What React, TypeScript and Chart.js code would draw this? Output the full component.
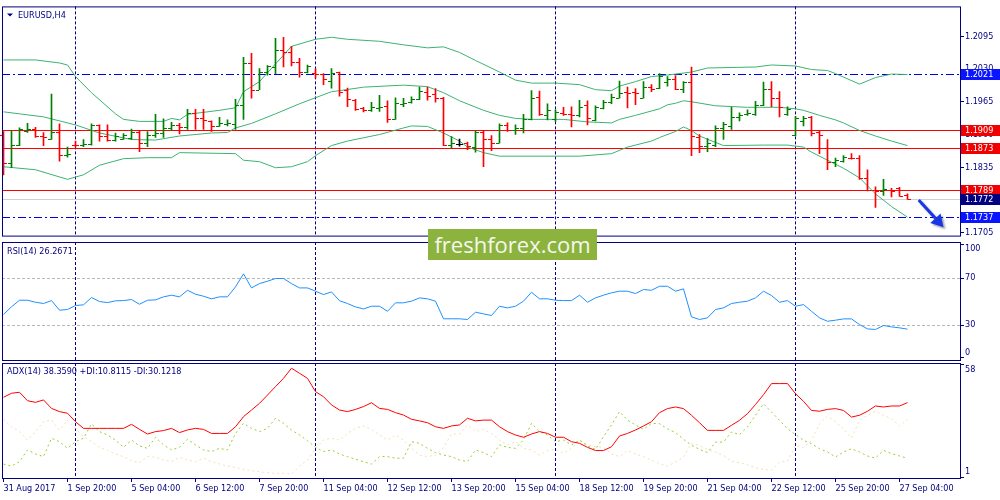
import React, { useEffect, useRef } from "react";
import { Chart, registerables } from "chart.js";
Chart.register(...registerables);

const FONT = '"DejaVu Sans Condensed", "DejaVu Sans", sans-serif';
const NAVY = "#000080";

// ---- OHLC (H4 bars, index 0 = 31 Aug 2017 12:00) ----
const opens = [
  1.1900, 1.1843, 1.1880, 1.1906, 1.1911, 1.1897, 1.1892, 1.1904, 1.1859, 1.1880,
  1.1879, 1.1881, 1.1918, 1.1898, 1.1890, 1.1892, 1.1894, 1.1904, 1.1883, 1.1900,
  1.1903, 1.1913, 1.1919, 1.1914, 1.1943, 1.1932, 1.1927, 1.1917, 1.1921, 1.1921,
  1.1959, 1.2042, 1.1989, 1.2024, 1.2034, 1.2067, 1.2063, 1.2043, 1.2024, 1.2022,
  1.2021, 1.2006, 1.2024, 1.1989, 1.1969, 1.1953, 1.1948, 1.1953, 1.1957, 1.1931,
  1.1961, 1.1965, 1.1970, 1.1985, 1.1980, 1.1972, 1.1880, 1.1882, 1.1883, 1.1876,
  1.1904, 1.1892, 1.1883, 1.1918, 1.1908, 1.1913, 1.1931, 1.1974, 1.1938, 1.1931,
  1.1943, 1.1940, 1.1938, 1.1959, 1.1929, 1.1953, 1.1964, 1.1973, 1.1985, 1.1985,
  1.1973, 1.1994, 1.1992, 1.2005, 1.2011, 1.1991, 1.2005, 1.1896, 1.1878, 1.1879,
  1.1913, 1.1916, 1.1935, 1.1940, 1.1940, 1.1959, 1.1991, 1.1972, 1.1941, 1.1900,
  1.1927, 1.1934, 1.1904, 1.1873, 1.1845, 1.1847, 1.1854, 1.1853, 1.1814, 1.1790,
  1.1788, 1.1790, 1.1793, 1.1780,
];
const highs = [
  1.1906, 1.1908, 1.1913, 1.1922, 1.1914, 1.1904, 1.1980, 1.1921, 1.1875, 1.1887,
  1.1890, 1.1921, 1.1919, 1.1919, 1.1903, 1.1902, 1.1911, 1.1908, 1.1906, 1.1940,
  1.1931, 1.1924, 1.1922, 1.1950, 1.1950, 1.1950, 1.1927, 1.1934, 1.1929, 1.1970,
  1.2053, 1.2061, 1.2031, 1.2037, 1.2091, 1.2093, 1.2075, 1.2051, 1.2038, 1.2031,
  1.2021, 1.2031, 1.2024, 1.1992, 1.1970, 1.1954, 1.1964, 1.1978, 1.1967, 1.1973,
  1.1972, 1.1975, 1.1994, 1.1994, 1.1991, 1.1974, 1.1896, 1.1891, 1.1885, 1.1908,
  1.1908, 1.1898, 1.1921, 1.1923, 1.1919, 1.1940, 1.1987, 1.1986, 1.1961, 1.1949,
  1.1954, 1.1955, 1.1968, 1.1967, 1.1957, 1.1968, 1.1980, 1.2006, 1.1994, 1.1991,
  1.2005, 1.1999, 1.2021, 1.2015, 1.2017, 1.2005, 1.2034, 1.1900, 1.1892, 1.1917,
  1.1924, 1.1954, 1.1943, 1.1949, 1.1966, 1.2004, 1.2005, 1.1985, 1.1955, 1.1936,
  1.1936, 1.1936, 1.1908, 1.1890, 1.1853, 1.1858, 1.1862, 1.1858, 1.1830, 1.1796,
  1.1811, 1.1793, 1.1795, 1.1782,
];
const lows = [
  1.1820, 1.1834, 1.1878, 1.1904, 1.1894, 1.1878, 1.1890, 1.1847, 1.1855, 1.1875,
  1.1876, 1.1879, 1.1887, 1.1887, 1.1887, 1.1890, 1.1890, 1.1866, 1.1876, 1.1894,
  1.1894, 1.1908, 1.1901, 1.1910, 1.1910, 1.1910, 1.1906, 1.1916, 1.1917, 1.1910,
  1.1930, 1.1972, 1.1989, 1.2018, 1.2021, 1.2034, 1.2036, 1.2014, 1.2022, 1.2012,
  1.1999, 1.1992, 1.1976, 1.1955, 1.1948, 1.1945, 1.1946, 1.1946, 1.1924, 1.1930,
  1.1955, 1.1962, 1.1969, 1.1968, 1.1964, 1.1878, 1.1873, 1.1877, 1.1870, 1.1865,
  1.1836, 1.1868, 1.1883, 1.1906, 1.1900, 1.1903, 1.1929, 1.1938, 1.1929, 1.1926,
  1.1938, 1.1915, 1.1935, 1.1919, 1.1927, 1.1951, 1.1961, 1.1972, 1.1953, 1.1959,
  1.1972, 1.1985, 1.1991, 1.1996, 1.1989, 1.1983, 1.1858, 1.1864, 1.1866, 1.1876,
  1.1890, 1.1910, 1.1927, 1.1938, 1.1938, 1.1957, 1.1955, 1.1935, 1.1938, 1.1897,
  1.1917, 1.1897, 1.1862, 1.1830, 1.1836, 1.1845, 1.1851, 1.1811, 1.1788, 1.1755,
  1.1779, 1.1776, 1.1777, 1.1771,
];
const closes = [
  1.1843, 1.1880, 1.1910, 1.1910, 1.1897, 1.1896, 1.1904, 1.1859, 1.1862, 1.1879,
  1.1881, 1.1918, 1.1897, 1.1889, 1.1898, 1.1900, 1.1904, 1.1884, 1.1900, 1.1902,
  1.1913, 1.1919, 1.1914, 1.1943, 1.1932, 1.1929, 1.1917, 1.1922, 1.1922, 1.1959,
  1.2042, 1.1989, 1.2024, 1.2035, 1.2067, 1.2063, 1.2043, 1.2024, 1.2036, 1.2021,
  1.2010, 1.2022, 1.1985, 1.1970, 1.1951, 1.1948, 1.1954, 1.1955, 1.1931, 1.1963,
  1.1963, 1.1970, 1.1987, 1.1976, 1.1973, 1.1880, 1.1884, 1.1882, 1.1878, 1.1904,
  1.1892, 1.1883, 1.1919, 1.1908, 1.1913, 1.1931, 1.1973, 1.1941, 1.1948, 1.1945,
  1.1940, 1.1938, 1.1955, 1.1932, 1.1955, 1.1964, 1.1975, 1.1983, 1.1983, 1.1982,
  1.1994, 1.1991, 1.2017, 1.2010, 1.1991, 1.2004, 1.1897, 1.1878, 1.1884, 1.1913,
  1.1921, 1.1935, 1.1938, 1.1942, 1.1959, 1.1991, 1.1972, 1.1954, 1.1951, 1.1932,
  1.1932, 1.1903, 1.1900, 1.1845, 1.1849, 1.1855, 1.1853, 1.1814, 1.1790, 1.1788,
  1.1791, 1.1788, 1.1777, 1.1772,
];

// ---- Bollinger bands, sampled [barIndex, price] ----
const bbUpper: [number, number][] = [
  [0, 1.2048], [4, 1.2048], [7, 1.2042], [8, 1.2038], [9, 1.2015], [11, 1.1983], [14, 1.1941],
  [15, 1.1930], [17, 1.1926], [20, 1.1926], [21, 1.1932], [22, 1.1929], [23, 1.1940], [27, 1.1948],
  [29, 1.1953], [30, 1.1985], [32, 1.2005], [34, 1.2040], [36, 1.2075], [39, 1.2089], [41, 1.2093],
  [43, 1.2089], [47, 1.2085], [50, 1.2078], [53, 1.2072], [55, 1.2074], [57, 1.2063], [59, 1.2047],
  [62, 1.2024], [64, 1.2008], [66, 1.2002], [69, 1.2002], [72, 1.1999], [74, 1.1989], [76, 1.1987],
  [77, 1.1996], [79, 1.2005], [81, 1.2015], [83, 1.2018], [86, 1.2024], [88, 1.2032], [94, 1.2034],
  [96, 1.2038], [99, 1.2036], [101, 1.2029], [103, 1.2027], [104, 1.2021], [107, 1.2000],
  [109, 1.2013], [111, 1.2020], [113, 1.2019],
];
const bbMiddle: [number, number][] = [
  [0, 1.1945], [2, 1.1941], [5, 1.1935], [9, 1.1919], [12, 1.1903], [16, 1.1890], [19, 1.1889],
  [22, 1.1897], [26, 1.1903], [28, 1.1904], [29, 1.1913], [31, 1.1922], [34, 1.1941], [37, 1.1961],
  [39, 1.1973], [41, 1.1985], [42, 1.1987], [45, 1.1994], [50, 1.1998], [53, 1.1995], [55, 1.1983],
  [57, 1.1967], [60, 1.1948], [62, 1.1938], [64, 1.1932], [66, 1.1930], [70, 1.1930], [73, 1.1925],
  [76, 1.1923], [77, 1.1930], [79, 1.1938], [82, 1.1951], [83, 1.1959], [84, 1.1962], [85, 1.1967],
  [86, 1.1965], [89, 1.1957], [93, 1.1954], [97, 1.1954], [99, 1.1951], [100, 1.1948], [102, 1.1938],
  [104, 1.1929], [105, 1.1923], [107, 1.1908], [109, 1.1897], [111, 1.1887], [113, 1.1878],
];
const bbLower: [number, number][] = [
  [0, 1.1836], [4, 1.1830], [8, 1.1811], [10, 1.1820], [12, 1.1839], [15, 1.1852], [18, 1.1854],
  [21, 1.1854], [22, 1.1864], [29, 1.1862], [30, 1.1849], [32, 1.1846], [34, 1.1834], [36, 1.1836],
  [38, 1.1846], [39, 1.1858], [41, 1.1878], [43, 1.1887], [47, 1.1900], [50, 1.1913], [51, 1.1917],
  [53, 1.1916], [55, 1.1903], [57, 1.1887], [58, 1.1875], [60, 1.1864], [62, 1.1857], [72, 1.1857],
  [76, 1.1862], [78, 1.1875], [81, 1.1887], [82, 1.1894], [84, 1.1906], [85, 1.1915], [86, 1.1908],
  [87, 1.1897], [90, 1.1878], [95, 1.1879], [98, 1.1879], [100, 1.1875], [101, 1.1865], [103, 1.1849],
  [105, 1.1833], [107, 1.1814], [109, 1.1782], [111, 1.1757], [113, 1.1736],
];

// ---- RSI(14) ----
const rsiValues = [
  38.7, 45.3, 50.9, 50.9, 49.2, 48.1, 50.6, 42.4, 43.0, 46.4, 47.0, 53.2, 49.8, 48.9, 50.4, 50.6,
  51.5, 47.5, 50.9, 51.2, 53.8, 55.2, 53.8, 59.4, 56.0, 54.3, 52.1, 53.8, 53.8, 62.3, 73.4, 61.4,
  65.1, 67.1, 69.4, 69.4, 65.1, 61.4, 61.4, 58.6, 55.7, 58.0, 50.5, 48.1, 45.2, 43.5, 45.8, 45.8,
  41.5, 48.7, 48.7, 50.1, 52.9, 52.1, 50.1, 35.1, 35.1, 35.1, 34.5, 40.7, 39.3, 37.9, 45.8, 44.4,
  45.8, 50.1, 57.7, 52.1, 52.1, 50.9, 50.6, 50.6, 55.2, 49.2, 52.9, 55.2, 57.2, 58.6, 58.6, 56.6,
  60.0, 59.4, 62.8, 62.8, 58.6, 60.6, 36.7, 34.5, 35.9, 43.0, 44.4, 48.1, 49.2, 50.1, 52.9, 58.6,
  54.9, 49.2, 50.6, 45.8, 47.2, 41.5, 35.9, 33.0, 33.9, 35.0, 35.0, 30.2, 26.5, 26.0, 29.4, 28.2,
  27.4, 26.2671,
];

// ---- ADX(14) ----
const adxValues = [
  41.0, 43.0, 43.5, 39.3, 38.5, 39.7, 35.5, 33.9, 33.1, 28.9, 25.6, 25.6, 25.6, 25.6, 25.6, 25.6,
  27.6, 25.1, 22.8, 24.0, 24.5, 25.6, 23.5, 24.8, 25.6, 25.1, 23.1, 23.1, 23.1, 26.4, 31.4, 34.7,
  38.0, 42.1, 46.3, 50.4, 55.4, 52.9, 50.4, 43.8, 41.3, 37.2, 34.7, 33.9, 35.0, 36.4, 38.3, 35.5,
  35.0, 33.4, 32.2, 30.1, 29.3, 28.4, 26.4, 25.6, 26.8, 27.3, 30.6, 29.3, 29.7, 29.7, 26.4, 24.0,
  22.3, 21.2, 22.8, 24.0, 23.1, 21.2, 21.2, 19.0, 18.2, 16.2, 14.6, 14.6, 16.5, 21.8, 23.1, 24.8,
  26.8, 28.9, 33.4, 35.4, 36.2, 35.4, 32.1, 28.4, 24.6, 24.6, 24.6, 27.1, 29.6, 32.9, 37.4, 42.3,
  47.8, 47.8, 47.8, 42.8, 39.0, 34.5, 34.1, 35.0, 35.4, 34.5, 31.2, 32.1, 34.1, 36.7, 36.2, 36.7,
  36.7, 38.359,
];
const plusDI = [
  7.9, 6.9, 9.1, 14.9, 12.9, 11.6, 20.7, 19.0, 15.7, 19.0, 20.7, 27.8, 24.0, 22.3, 19.8, 16.2,
  19.8, 16.9, 15.7, 21.2, 17.4, 14.9, 16.2, 20.2, 17.4, 14.9, 14.1, 15.7, 14.9, 23.1, 28.1, 25.6,
  24.0, 25.6, 30.6, 28.1, 24.8, 22.3, 19.5, 16.2, 14.1, 14.9, 12.9, 11.6, 10.3, 9.1, 7.9, 11.6,
  11.6, 10.8, 10.8, 19.0, 18.2, 15.7, 13.6, 12.4, 11.6, 9.9, 9.1, 14.9, 13.6, 11.6, 17.4, 16.2,
  15.7, 19.8, 28.1, 24.0, 22.3, 19.0, 19.8, 17.4, 19.8, 16.9, 15.2, 21.5, 27.3, 33.9, 29.7, 27.3,
  25.1, 28.1, 27.9, 25.4, 23.5, 20.2, 17.2, 15.2, 13.6, 18.8, 18.8, 23.8, 22.5, 26.3, 32.1, 37.8,
  33.7, 29.6, 25.4, 22.5, 19.7, 18.0, 15.5, 13.9, 11.4, 13.9, 15.5, 13.9, 11.9, 10.9, 14.7, 13.1,
  11.9, 10.8115,
];
const minusDI = [
  30.1, 26.4, 24.0, 19.8, 24.0, 28.9, 29.7, 24.8, 29.7, 25.6, 21.5, 19.0, 16.2, 14.6, 12.9, 11.6,
  9.6, 8.6, 11.6, 11.3, 9.9, 9.1, 11.3, 9.9, 9.1, 10.8, 9.1, 7.9, 6.9, 6.3, 5.3, 4.6,
  4.1, 3.6, 3.3, 3.3, 3.0, 6.9, 9.9, 15.7, 19.8, 20.7, 19.8, 23.1, 25.6, 26.8, 25.1, 22.3,
  19.8, 22.3, 19.8, 15.7, 12.4, 11.6, 12.4, 16.2, 22.8, 22.8, 27.3, 24.0, 25.1, 23.1, 19.8, 17.4,
  19.0, 15.7, 14.9, 12.4, 14.6, 15.2, 13.2, 15.7, 19.8, 17.4, 16.5, 16.2, 12.9, 11.6, 14.6, 12.9,
  11.6, 9.9, 8.1, 6.9, 8.9, 11.4, 18.0, 17.2, 15.2, 13.9, 12.2, 9.3, 8.6, 7.6, 6.0, 5.3,
  4.8, 8.9, 9.3, 17.2, 15.9, 19.7, 27.9, 31.7, 28.8, 25.4, 20.8, 29.6, 32.1, 34.1, 32.1, 30.4,
  26.8, 30.1218,
];

// ---- axes / annotations ----
const timeTickIdx = [0, 8, 16, 24, 32, 40, 48, 56, 64, 72, 80, 88, 96, 104, 112];
const timeLabels = [
  "31 Aug 2017", "1 Sep 20:00", "5 Sep 04:00", "6 Sep 12:00", "7 Sep 20:00", "11 Sep 04:00",
  "12 Sep 12:00", "13 Sep 20:00", "15 Sep 04:00", "18 Sep 12:00", "19 Sep 20:00", "21 Sep 04:00",
  "22 Sep 12:00", "25 Sep 20:00", "27 Sep 04:00",
];
const priceTicks = [1.2095, 1.203, 1.1965, 1.19, 1.1835, 1.177, 1.1705];
const rsiLevels = [70, 30];
const rsiTickLabels = [100, 70, 30, 0];
const adxTickLabels = [58, 1];
const weekStartIdx = [9, 39, 69, 99];
const redLevels = [1.1909, 1.1873, 1.1789];
const blueLevels = [1.2021, 1.1737];
const bidLevel = 1.1772;
const arrowFrom: [number, number] = [114.4, 1.1770];
const arrowTo: [number, number] = [117.5, 1.1716];

const X_MIN = -0.1875;
const X_MAX = 119.5625;

const hiddenX = { type: "linear" as const, min: X_MIN, max: X_MAX, display: false, offset: false };

const separatorsPlugin = {
  id: "separators",
  beforeDatasetsDraw(chart: any) {
    const { ctx, chartArea: a, scales } = chart;
    ctx.save();
    ctx.strokeStyle = NAVY;
    ctx.lineWidth = 1;
    ctx.setLineDash([3, 2]);
    weekStartIdx.forEach((i) => {
      const px = Math.floor(scales.x.getPixelForValue(i)) + 0.5;
      ctx.beginPath();
      ctx.moveTo(px, a.top);
      ctx.lineTo(px, a.bottom);
      ctx.stroke();
    });
    ctx.restore();
  },
};

const framePlugin = {
  id: "frame",
  afterDraw(chart: any) {
    const { ctx, chartArea: a } = chart;
    ctx.save();
    ctx.strokeStyle = NAVY;
    ctx.lineWidth = 1;
    ctx.setLineDash([]);
    ctx.strokeRect(a.left + 0.5, a.top + 0.5, a.right - a.left, a.bottom - a.top);
    ctx.restore();
  },
};

const pricePlugin = {
  id: "priceExtras",
  beforeDatasetsDraw(chart: any) {
    const { ctx, chartArea: a, scales } = chart;
    const y = scales.y;
    ctx.save();
    ctx.lineWidth = 1;
    ctx.strokeStyle = "#d0d0d0";
    const py = Math.round(y.getPixelForValue(bidLevel)) + 0.5;
    ctx.beginPath(); ctx.moveTo(a.left, py); ctx.lineTo(a.right, py); ctx.stroke();
    ctx.strokeStyle = "#ff0000";
    redLevels.forEach((v) => {
      const p = Math.round(y.getPixelForValue(v)) + 0.5;
      ctx.beginPath(); ctx.moveTo(a.left, p); ctx.lineTo(a.right, p); ctx.stroke();
    });
    ctx.strokeStyle = "#0000e6";
    ctx.setLineDash([8, 3, 2, 3]);
    blueLevels.forEach((v) => {
      const p = Math.round(y.getPixelForValue(v)) + 0.5;
      ctx.beginPath(); ctx.moveTo(a.left, p); ctx.lineTo(a.right, p); ctx.stroke();
    });
    ctx.restore();
  },
  afterDatasetsDraw(chart: any) {
    const { ctx, scales } = chart;
    const x = scales.x, y = scales.y;
    ctx.save();
    for (let i = 0; i < opens.length; i++) {
      const cx = Math.floor(x.getPixelForValue(i));
      const col = closes[i] > opens[i] ? "#008000" : closes[i] < opens[i] ? "#ff0000" : "#000000";
      ctx.fillStyle = col;
      const yo = Math.round(y.getPixelForValue(opens[i]));
      const yc = Math.round(y.getPixelForValue(closes[i]));
      ctx.fillRect(cx - 3, yo, 3, 1);
      ctx.fillRect(cx + 1, yc, 3, 1);
    }
    ctx.restore();
  },
  afterDraw(chart: any) {
    const { ctx, chartArea: a, scales } = chart;
    const x = scales.x, y = scales.y;
    ctx.save();
    const boxes: { v: number; bg: string }[] = [
      ...blueLevels.map((v) => ({ v, bg: "#0a14ff" })),
      ...redLevels.map((v) => ({ v, bg: "#f00000" })),
      { v: bidLevel, bg: "#000080" },
    ];
    ctx.font = `9px ${FONT}`;
    ctx.textBaseline = "middle";
    ctx.textAlign = "left";
    boxes.forEach(({ v, bg }) => {
      const p = Math.round(y.getPixelForValue(v));
      ctx.fillStyle = bg;
      ctx.fillRect(a.right + 1, p - 5, 39, 11);
      ctx.fillStyle = "#ffffff";
      ctx.fillText(v.toFixed(4), a.right + 5, p + 0.5);
    });
    ctx.fillStyle = NAVY;
    ctx.beginPath();
    ctx.moveTo(a.left + 5, a.top + 7);
    ctx.lineTo(a.left + 11, a.top + 7);
    ctx.lineTo(a.left + 8, a.top + 10);
    ctx.closePath();
    ctx.fill();
    ctx.fillText("EURUSD,H4", a.left + 16, a.top + 9);
    const x1 = x.getPixelForValue(arrowFrom[0]), y1 = y.getPixelForValue(arrowFrom[1]);
    const x2 = x.getPixelForValue(arrowTo[0]), y2 = y.getPixelForValue(arrowTo[1]);
    const ang = Math.atan2(y2 - y1, x2 - x1);
    const hl = 12, hw = 7;
    const bx = x2 - hl * Math.cos(ang), by = y2 - hl * Math.sin(ang);
    ctx.shadowColor = "rgba(0,0,0,0.35)";
    ctx.shadowOffsetX = 2;
    ctx.shadowOffsetY = 2;
    ctx.shadowBlur = 2;
    ctx.strokeStyle = "#1836e6";
    ctx.fillStyle = "#1836e6";
    ctx.lineWidth = 3;
    ctx.beginPath(); ctx.moveTo(x1, y1); ctx.lineTo(bx, by); ctx.stroke();
    ctx.beginPath();
    ctx.moveTo(x2, y2);
    ctx.lineTo(bx + hw * Math.sin(ang), by - hw * Math.cos(ang));
    ctx.lineTo(bx - hw * Math.sin(ang), by + hw * Math.cos(ang));
    ctx.closePath();
    ctx.fill();
    ctx.restore();
  },
};

const rsiPlugin = {
  id: "rsiExtras",
  beforeDatasetsDraw(chart: any) {
    const { ctx, chartArea: a, scales } = chart;
    ctx.save();
    ctx.strokeStyle = "#b8b8b8";
    ctx.lineWidth = 1;
    ctx.setLineDash([3, 2]);
    rsiLevels.forEach((v) => {
      const p = Math.round(scales.y.getPixelForValue(v)) + 0.5;
      ctx.beginPath(); ctx.moveTo(a.left, p); ctx.lineTo(a.right, p); ctx.stroke();
    });
    ctx.restore();
  },
  afterDraw(chart: any) {
    const { ctx, chartArea: a, scales } = chart;
    ctx.save();
    ctx.font = `9px ${FONT}`;
    ctx.textBaseline = "middle";
    ctx.fillStyle = NAVY;
    ctx.fillText(`RSI(14) ${rsiValues[rsiValues.length - 1].toFixed(4)}`, a.left + 5, a.top + 10);
    rsiTickLabels.forEach((v) => {
      let p = scales.y.getPixelForValue(v);
      let tp = p;
      if (v === 100) { p += 6; tp = a.top + 2; }
      if (v === 0) { p -= 7; tp = a.bottom - 3; }
      ctx.fillRect(a.right + 1, Math.round(tp), 3, 1);
      ctx.fillText(String(v), a.right + 5, p);
    });
    ctx.restore();
  },
};

const adxPlugin = {
  id: "adxExtras",
  afterDraw(chart: any) {
    const { ctx, chartArea: a, scales } = chart;
    ctx.save();
    ctx.font = `9px ${FONT}`;
    ctx.textBaseline = "middle";
    ctx.fillStyle = NAVY;
    const n = adxValues.length - 1;
    ctx.fillText(
      `ADX(14) ${adxValues[n].toFixed(4)} +DI:${plusDI[n].toFixed(4)} -DI:${minusDI[n].toFixed(4)}`,
      a.left + 5, a.top + 9
    );
    adxTickLabels.forEach((v, k) => {
      const p = scales.y.getPixelForValue(v);
      const lp = k === 0 ? p + 6.5 : p - 6;
      const tp = k === 0 ? a.top + 1 : a.bottom - 1;
      ctx.fillRect(a.right + 1, Math.round(tp), 3, 1);
      ctx.fillText(String(v), a.right + 5, lp);
    });
    ctx.restore();
  },
};

const commonOpts = {
  responsive: false,
  maintainAspectRatio: false,
  animation: false as const,
  devicePixelRatio: 1,
  events: [] as any[],
  plugins: { legend: { display: false }, tooltip: { enabled: false } },
};

export default function App() {
  const priceRef = useRef<HTMLCanvasElement>(null);
  const rsiRef = useRef<HTMLCanvasElement>(null);
  const adxRef = useRef<HTMLCanvasElement>(null);

  useEffect(() => {
    document.body.style.margin = "0";
    const charts: Chart[] = [];
    const bandStyle = { type: "line" as const, borderColor: "#3CB371", borderWidth: 1, pointRadius: 0, tension: 0 };

    charts.push(
      new Chart(priceRef.current!, {
        type: "bar",
        data: {
          datasets: [
            {
              type: "bar",
              data: highs.map((h, i) => ({ x: i, y: [lows[i], h] })) as any,
              backgroundColor: closes.map((c, i) => (c > opens[i] ? "#008000" : c < opens[i] ? "#ff0000" : "#000000")),
              barThickness: 1,
              borderWidth: 0,
            } as any,
            { ...bandStyle, data: bbUpper.map(([x, y]) => ({ x, y })) } as any,
            { ...bandStyle, data: bbMiddle.map(([x, y]) => ({ x, y })) } as any,
            { ...bandStyle, data: bbLower.map(([x, y]) => ({ x, y })) } as any,
          ],
        },
        options: {
          ...commonOpts,
          layout: { padding: { left: 2, top: 2, right: 0, bottom: 2 } },
          scales: {
            x: hiddenX,
            y: {
              type: "linear",
              position: "right",
              min: 1.16993,
              max: 1.21543,
              afterFit: (s: any) => { s.width = 40; },
              afterBuildTicks: (s: any) => { s.ticks = priceTicks.map((v) => ({ value: v })); },
              grid: { drawOnChartArea: false, drawTicks: true, tickLength: 4, color: NAVY },
              border: { display: false },
              ticks: {
                padding: 1,
                color: NAVY,
                font: { family: FONT, size: 9 },
                autoSkip: false,
                callback: (v: any) => Number(v).toFixed(4),
              },
            },
          },
        } as any,
        plugins: [separatorsPlugin, pricePlugin, framePlugin],
      })
    );

    charts.push(
      new Chart(rsiRef.current!, {
        type: "line",
        data: {
          datasets: [
            {
              data: rsiValues.map((v, i) => ({ x: i, y: v })),
              borderColor: "#1E90FF",
              borderWidth: 1,
              pointRadius: 0,
              tension: 0,
            },
          ],
        },
        options: {
          ...commonOpts,
          layout: { padding: { left: 2, top: 2, right: 40, bottom: 2 } },
          scales: {
            x: hiddenX,
            y: { type: "linear", min: 0, max: 100.5, display: false },
          },
        } as any,
        plugins: [separatorsPlugin, rsiPlugin, framePlugin],
      })
    );

    charts.push(
      new Chart(adxRef.current!, {
        type: "line",
        data: {
          datasets: [
            {
              data: adxValues.map((v, i) => ({ x: i, y: v })),
              borderColor: "#FF0000",
              borderWidth: 1,
              pointRadius: 0,
              tension: 0,
            },
            {
              data: plusDI.map((v, i) => ({ x: i, y: v })),
              borderColor: "#9ACD32",
              borderWidth: 1,
              borderDash: [2, 3],
              pointRadius: 0,
              tension: 0,
            },
            {
              data: minusDI.map((v, i) => ({ x: i, y: v })),
              borderColor: "#F5DEB3",
              borderWidth: 1,
              borderDash: [2, 3],
              pointRadius: 0,
              tension: 0,
            },
          ],
        },
        options: {
          ...commonOpts,
          layout: { padding: { left: 2, top: 3, right: 40, bottom: 0 } },
          scales: {
            x: {
              type: "linear",
              min: X_MIN,
              max: X_MAX,
              offset: false,
              position: "bottom",
              afterFit: (s: any) => { s.height = 22; },
              afterBuildTicks: (s: any) => { s.ticks = timeTickIdx.map((v) => ({ value: v })); },
              grid: { drawOnChartArea: false, drawTicks: true, tickLength: 4, color: NAVY },
              border: { display: false },
              ticks: {
                autoSkip: false,
                maxRotation: 0,
                minRotation: 0,
                align: "start",
                padding: 1,
                color: NAVY,
                font: { family: FONT, size: 9 },
                callback: (_v: any, idx: number) => timeLabels[idx] ?? "",
              },
            },
            y: { type: "linear", min: 1, max: 58, display: false },
          },
        } as any,
        plugins: [separatorsPlugin, adxPlugin, framePlugin],
      })
    );

    return () => charts.forEach((c) => c.destroy());
  }, []);

  return (
    <div style={{ position: "relative", width: 1000, height: 500, background: "#ffffff", overflow: "hidden" }}>
      <canvas ref={priceRef} width={1000} height={242} style={{ position: "absolute", left: 0, top: 0 }} />
      <canvas ref={rsiRef} width={1000} height={122} style={{ position: "absolute", left: 0, top: 240 }} />
      <canvas ref={adxRef} width={1000} height={140} style={{ position: "absolute", left: 0, top: 360 }} />
      <div
        style={{
          position: "absolute",
          left: 428,
          top: 229,
          width: 169,
          height: 31,
          background: "#8DB33F",
          color: "#f4f8ee",
          fontFamily: '"Open Sans", sans-serif',
          fontSize: 22,
          lineHeight: "31px",
          textAlign: "center",
        }}
      >
        freshforex.com
      </div>
    </div>
  );
}
